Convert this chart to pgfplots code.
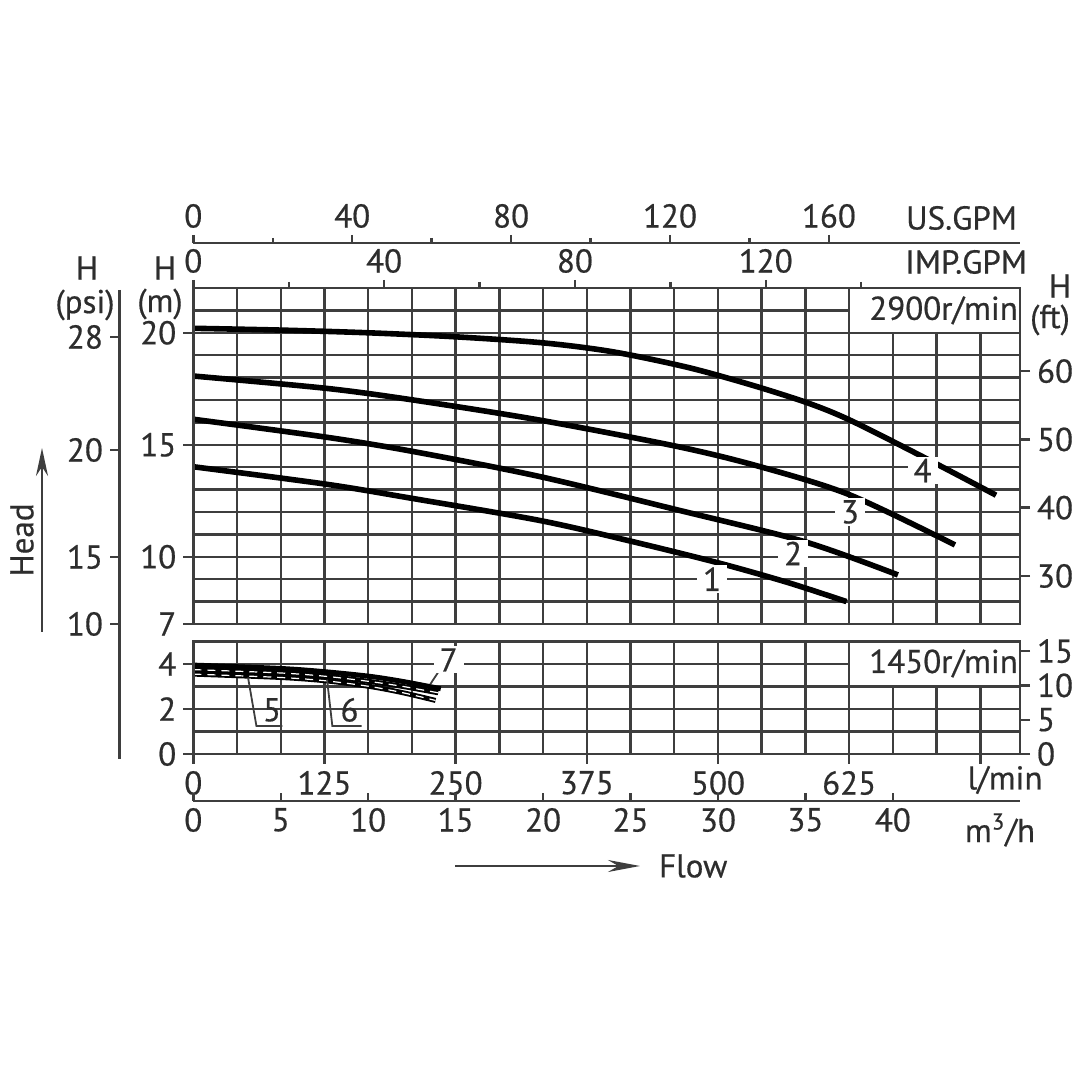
\documentclass[border=0pt]{standalone}
\usepackage{pgfplots}
\pgfplotsset{compat=1.18}
\usepackage{fontspec}
\setmainfont{PT Sans}[FakeBold=0.5]
\usetikzlibrary{arrows.meta}
\definecolor{gridc}{RGB}{62,62,62}
\definecolor{txtc}{RGB}{45,45,45}
\newcommand\lf{\fontsize{16.5}{19}\selectfont}

\pgfplotsset{
  base/.style={scale only axis, width=413.35pt, xmin=0, xmax=47.27, clip=false,
    /pgf/number format/assume math mode=true,
    tick label style={font=\lf, text=txtc},
    axis line style={-, gridc, line width=1.2pt},
    tick style={gridc, line width=1.2pt},
  },
  upper/.style={base, height=168pt, at={(96.65pt,228pt)}, anchor=south west, ymin=7, ymax=22},
  lower/.style={base, height=56.25pt, at={(96.65pt,163pt)}, anchor=south west, ymin=0, ymax=5},
}
\tikzset{lbl/.style={font=\lf, text=txtc, fill=white, inner xsep=3pt, inner ysep=1pt}}

\begin{document}
\begin{tikzpicture}[x=0.5pt,y=0.5pt]
\path[use as bounding box] (0,0) rectangle (1080,1080);

% ---------- upper panel (2900 r/min) ----------
\begin{axis}[upper, xtick={2.5,5,...,45}, ytick={8,...,21}, xticklabels={}, yticklabels={},
  major tick length=0pt, grid=major, major grid style={gridc, line width=1.2pt}]
  \fill[white] (axis cs:37.5,20) rectangle (axis cs:47.27,22);
  \draw[gridc, line width=1.2pt] (axis cs:37.5,20) rectangle (axis cs:47.27,22);
  \node[font=\lf, text=txtc] at (axis cs:42.9,21) {2900r/min};
  % curve 1
  \addplot[black, line width=2.8pt, smooth] coordinates {(0,14.02) (7.6,13.24) (12.57,12.6) (19.82,11.62) (25,10.7) (30.06,9.72) (34,8.85) (37.35,8.0)};
  % curve 2
  \addplot[black, line width=2.8pt, smooth] coordinates {(0,16.14) (7.6,15.34) (12.57,14.7) (19.82,13.58) (27.7,12.09) (34.97,10.67) (40.29,9.19)};
  % curve 3
  \addplot[black, line width=2.8pt, smooth] coordinates {(0,18.07) (7.6,17.52) (12.57,17.0) (19.82,16.1) (27.7,14.92) (32.42,14.02) (37.55,12.76) (43.55,10.53)};
  % curve 4
  \addplot[black, line width=2.8pt, smooth] coordinates {(0,20.2) (5,20.12) (10,20.0) (15,19.82) (20,19.55) (24,19.15) (28.3,18.45) (32,17.65) (35.2,16.85) (37.55,16.1) (41.5,14.55) (45.9,12.75)};
  \node[lbl] at (axis cs:29.66,9) {1};
  \node[lbl] at (axis cs:34.3,10.15) {2};
  \node[lbl] at (axis cs:37.55,12) {3};
  \node[lbl] at (axis cs:41.7,13.85) {4};
\end{axis}
% left m ticks
\begin{axis}[upper, axis x line=none, axis y line*=left, ytick={7,10,15,20}, tick align=outside, major tick length=5pt]
\end{axis}
% right ft ticks
\begin{axis}[upper, ymin=22.966, ymax=72.178, axis x line=none, axis y line*=right, ytick={30,40,50,60}, tick align=outside, major tick length=5pt]
\end{axis}
% IMP GPM
\begin{axis}[upper, xmax=173.3, axis y line=none, axis x line*=top, xtick={0,40,80,120}, minor xtick={20,60,100,140},
  tick align=outside, major tick length=4pt, minor tick length=3pt]
\end{axis}
% US GPM
\begin{axis}[base, height=10pt, at={(96.65pt,418.5pt)}, anchor=north west, ymin=0, ymax=1, xmax=208.1,
  axis y line=none, axis x line*=top, xtick={0,40,80,120,160}, minor xtick={20,60,100,140},
  tick align=outside, major tick length=4pt, minor tick length=2.5pt]
\end{axis}

% ---------- lower panel (1450 r/min) ----------
\begin{axis}[lower, xtick={2.5,5,...,45}, ytick={1,...,4}, xticklabels={}, yticklabels={},
  major tick length=0pt, grid=major, major grid style={gridc, line width=1.2pt}]
  \fill[white] (axis cs:37.5,3) rectangle (axis cs:47.27,5);
  \draw[gridc, line width=1.2pt] (axis cs:37.5,3) rectangle (axis cs:47.27,5);
  \node[font=\lf, text=txtc] at (axis cs:42.9,4.02) {1450r/min};
  % curve 5
  \addplot[black, line width=2.5pt, smooth] coordinates {(0,3.55) (5,3.4) (7.6,3.25) (10.1,3.0) (12,2.72) (13.85,2.38)};
  % curve 6
  \addplot[black, line width=2.5pt, smooth] coordinates {(0,3.75) (5,3.6) (7.6,3.45) (10.1,3.22) (12,3.0) (14.0,2.72)};
  % curve 7
  \addplot[black, line width=2.5pt, smooth] coordinates {(0,3.95) (5,3.8) (7.6,3.65) (10.1,3.45) (12,3.22) (14.15,2.9)};
  \addplot[white, line width=0.6pt, smooth, dash pattern=on 4pt off 3pt] coordinates {(0,3.55) (5,3.4) (7.6,3.25) (10.1,3.0) (12,2.72) (13.85,2.38)};
  \addplot[white, line width=0.6pt, smooth, dash pattern=on 4pt off 3pt] coordinates {(0,3.75) (5,3.6) (7.6,3.45) (10.1,3.22) (12,3.0) (14.0,2.72)};
  \draw[gridc, line width=0.9pt] (axis cs:3.13,3.4) -- (axis cs:3.61,1.24) -- (axis cs:5.09,1.24);
  \draw[gridc, line width=0.9pt] (axis cs:7.65,3.3) -- (axis cs:7.95,1.24) -- (axis cs:9.62,1.24);
  \draw[gridc, line width=0.9pt] (axis cs:13.55,3.1) -- (axis cs:14.1,3.75);
  \node[lbl, fill=none] at (axis cs:4.5,1.96) {5};
  \node[lbl, fill=none] at (axis cs:8.93,1.96) {6};
  \node[lbl] at (axis cs:14.6,4.18) {7};
\end{axis}
\begin{axis}[lower, axis x line=none, axis y line*=left, ytick={0,2,4}, tick align=outside, major tick length=5pt]
\end{axis}
\begin{axis}[lower, ymin=0, ymax=16.404, axis x line=none, axis y line*=right, ytick={0,5,10,15}, tick align=outside, major tick length=5pt]
\end{axis}
% l/min
\begin{axis}[lower, xmax=787.8, axis y line=none, axis x line*=bottom, xtick={0,125,250,375,500,625},
  extra x ticks={750}, extra x tick labels={}, tick align=outside, major tick length=5pt]
\end{axis}
% m3/h
\begin{axis}[base, height=10pt, at={(96.65pt,139.5pt)}, anchor=south west, ymin=0, ymax=1,
  axis y line=none, axis x line*=bottom, xtick={0,5,...,40}, tick align=inside, major tick length=4pt]
\end{axis}

% ---------- annotations ----------
\node[font=\lf, text=txtc, anchor=east] at (1024,862) {US.GPM};
\node[font=\lf, text=txtc, anchor=east] at (1034,818) {IMP.GPM};
\node[font=\lf, text=txtc, inner sep=1pt] at (87,812) {H};
\node[font=\lf, text=txtc, inner sep=1pt] at (85,775) {(psi)};
\node[font=\lf, text=txtc, inner sep=1pt] at (165,812) {H};
\node[font=\lf, text=txtc, inner sep=1pt] at (160,776) {(m)};
\node[font=\lf, text=txtc, inner sep=1pt] at (1060,794) {H};
\node[font=\lf, text=txtc, inner sep=1pt] at (1050,760) {(ft)};
\node[font=\lf, text=txtc] at (1005,300) {l/min};
\node[font=\lf, text=txtc] at (1000,250) {m\textsuperscript{3}/h};
% psi scale
\draw[gridc, line width=1.2pt] (119.5,790) -- (119.5,321);
\foreach \yy/\lab in {743/28, 630/20, 523/15, 456/10}{
  \draw[gridc, line width=1.2pt] (110,\yy) -- (119.5,\yy);
  \node[font=\lf, text=txtc, anchor=east] at (110,\yy) {\lab};
}
% Head arrow
\draw[gridc, line width=1.3pt, -{Stealth[length=14pt, width=6pt]}] (42,448) -- (42,632);
\node[font=\lf, text=txtc, rotate=90] at (22,540) {Head};
% Flow arrow
\draw[gridc, line width=1.3pt, -{Stealth[length=16pt, width=6pt]}] (455,214) -- (640,214);
\node[font=\lf, text=txtc, anchor=west] at (652,214) {Flow};
\end{tikzpicture}
\end{document}
